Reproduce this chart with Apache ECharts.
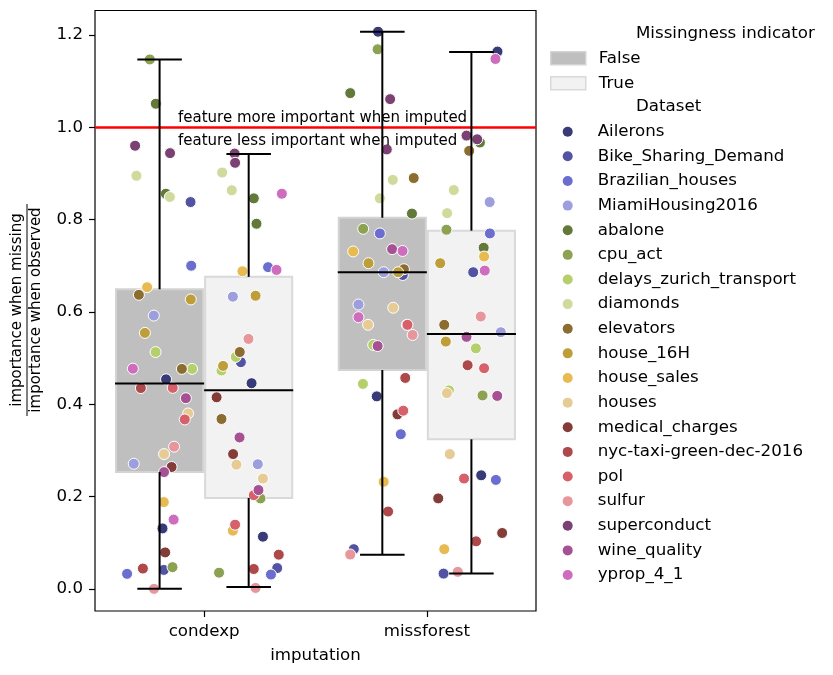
<!DOCTYPE html>
<html><head><meta charset="utf-8">
<script src="https://cdn.jsdelivr.net/npm/echarts@6/dist/echarts.min.js"></script>
<style>html,body{margin:0;padding:0;background:#fff}#c{width:833px;height:675px}</style>
</head><body><div id="c"></div>
<script>
const categories = ['condexp', 'missforest'];
const indicators = ['False', 'True'];
const yTicks = [0, 0.2, 0.4, 0.6, 0.8, 1.0, 1.2];
const datasetNames = ['Ailerons','Bike_Sharing_Demand','Brazilian_houses','MiamiHousing2016','abalone','cpu_act','delays_zurich_transport','diamonds','elevators','house_16H','house_sales','houses','medical_charges','nyc-taxi-green-dec-2016','pol','sulfur','superconduct','wine_quality','yprop_4_1'];
const datasetColors = ['#393b79','#5254a3','#6b6ecf','#9c9ede','#637939','#8ca252','#b5cf6b','#cedb9c','#8c6d31','#bd9e39','#e7ba52','#e7cb94','#843c39','#ad494a','#d6616b','#e7969c','#7b4173','#a55194','#ce6dbd'];

// box stats per category: [low whisker, Q1, median, Q3, high whisker]
const boxFalse = [[0.000, 0.253, 0.445, 0.649, 1.147], [0.074, 0.474, 0.686, 0.804, 1.207]];
const boxTrue  = [[0.004, 0.197, 0.430, 0.676, 0.942], [0.033, 0.324, 0.552, 0.776, 1.163]];
const thresholdValue = 1.0;

// points [x (category index + jitter), ratio]
const ptsAilerons = [[-0.171,0.454],[-0.187,0.131],[0.213,0.4455],[0.264,0.113],[0.781,1.207],[0.775,0.417],[1.317,1.164],[1.244,0.246]];
const ptsBike = [[-0.061,0.838],[-0.181,0.041],[0.165,0.491],[0.328,0.045],[0.892,0.680],[0.672,0.086],[1.208,0.686],[1.075,0.033]];
const ptsBrazilian = [[-0.058,0.700],[-0.346,0.0325],[0.287,0.697],[0.300,0.031],[0.789,0.770],[0.883,0.335],[1.283,0.770],[1.310,0.236]];
const ptsMiami = [[-0.226,0.592],[-0.316,0.271],[0.129,0.633],[0.241,0.270],[0.806,0.686],[0.693,0.616],[1.282,0.838],[1.332,0.556]];
const ptsAbalone = [[-0.217,1.051],[-0.172,0.856],[0.223,0.846],[0.235,0.791],[0.656,1.074],[0.933,0.813],[1.238,0.967],[1.255,0.739]];
const ptsCpu = [[-0.244,1.147],[-0.142,0.047],[0.253,0.196],[0.067,0.035],[0.779,1.169],[0.714,0.780],[1.088,0.778],[1.250,0.419]];
const ptsDelays = [[-0.218,0.513],[-0.054,0.4765],[0.142,0.5025],[0.078,0.473],[0.759,0.5285],[0.713,0.444],[1.220,0.521],[1.099,0.430]];
const ptsDiamonds = [[-0.304,0.895],[-0.154,0.849],[0.081,0.902],[0.124,0.8635],[0.847,0.886],[0.789,0.846],[1.121,0.864],[1.091,0.814]];
const ptsElevators = [[-0.293,0.637],[-0.100,0.4765],[0.160,0.513],[0.078,0.368],[0.941,0.890],[0.897,0.6925],[1.190,0.949],[1.078,0.572]];
const ptsHouse16H = [[-0.060,0.627],[-0.266,0.5545],[0.231,0.635],[0.085,0.483],[0.738,0.7055],[0.871,0.686],[1.060,0.7055],[1.085,0.5357]];
const ptsHouseSales = [[-0.256,0.6535],[-0.181,0.188],[0.172,0.688],[0.129,0.126],[0.669,0.731],[0.806,0.232],[1.257,0.720],[1.078,0.086]];
const ptsHouses = [[-0.072,0.380],[-0.180,0.292],[0.145,0.269],[0.264,0.239],[0.849,0.609],[0.736,0.572],[1.090,0.424],[1.103,0.292]];
const ptsMedical = [[-0.146,0.264],[-0.175,0.079],[0.056,0.415],[0.130,0.292],[0.868,0.378],[0.910,0.572],[1.051,0.196],[1.338,0.121]];
const ptsNyc = [[-0.284,0.435],[-0.275,0.044],[0.335,0.074],[0.223,0.043],[0.903,0.457],[0.826,0.1675],[1.183,0.4845],[1.221,0.103]];
const ptsPol = [[-0.141,0.4354],[-0.087,0.367],[0.223,0.203],[0.139,0.139],[0.913,0.572],[0.894,0.386],[1.257,0.478],[1.167,0.239]];
const ptsSulfur = [[-0.135,0.308],[-0.225,0.0],[0.199,0.5415],[0.231,0.002],[0.936,0.550],[0.656,0.0744],[1.242,0.590],[1.139,0.0368]];
const ptsSuperconduct = [[-0.310,0.960],[-0.153,0.944],[0.137,0.943],[0.139,0.923],[0.835,1.061],[0.820,0.952],[1.178,0.982],[1.226,0.974]];
const ptsWine = [[-0.082,0.413],[-0.180,0.253],[0.159,0.328],[0.244,0.214],[0.844,0.736],[0.779,0.526],[1.178,0.546],[1.316,0.418]];
const ptsYprop = [[-0.320,0.477],[-0.137,0.150],[0.349,0.856],[0.325,0.691],[0.891,0.732],[0.693,0.5885],[1.308,1.148],[1.260,0.6895]];
const pointSets = [ptsAilerons, ptsBike, ptsBrazilian, ptsMiami, ptsAbalone, ptsCpu, ptsDelays, ptsDiamonds, ptsElevators, ptsHouse16H, ptsHouseSales, ptsHouses, ptsMedical, ptsNyc, ptsPol, ptsSulfur, ptsSuperconduct, ptsWine, ptsYprop];

const FONT = 'DejaVu Sans';
const boxFill = ['#bfbfbf', '#f2f2f2'];
const boxEdge = ['#d3d3d3', '#d9d9d9'];
const HALF = 0.2;

function boxRows(stats, offset, ind) {
  return stats.map((s, i) => [i + offset, s[0], s[1], s[2], s[3], s[4], ind]);
}
const boxRowsFalse = boxRows(boxFalse, -HALF, 0);
const boxRowsTrue = boxRows(boxTrue, HALF, 1);

function renderBox(params, api) {
  const x = api.value(0), q1 = api.value(2), q3 = api.value(4), ind = api.value(6);
  const a = api.coord([x - HALF, q3]);
  const b = api.coord([x + HALF, q1]);
  return { type: 'rect', shape: { x: a[0] + 1, y: a[1], width: b[0] - a[0] - 2, height: b[1] - a[1] },
    style: { fill: boxFill[ind], stroke: boxEdge[ind], lineWidth: 2 } };
}
function renderLines(params, api) {
  const x = api.value(0), lo = api.value(1), q1 = api.value(2), md = api.value(3), q3 = api.value(4), hi = api.value(5);
  const ln = (p, q) => ({ type: 'line', shape: { x1: p[0], y1: p[1], x2: q[0], y2: q[1] }, style: { stroke: '#000', lineWidth: 2 } });
  return { type: 'group', children: [
    ln(api.coord([x, lo]), api.coord([x, q1])),
    ln(api.coord([x, q3]), api.coord([x, hi])),
    ln(api.coord([x - HALF / 2, lo]), api.coord([x + HALF / 2, lo])),
    ln(api.coord([x - HALF / 2, hi]), api.coord([x + HALF / 2, hi])),
    ln(api.coord([x - HALF, md]), api.coord([x + HALF, md]))
  ] };
}

const series = [
  { name: 'False', type: 'custom', renderItem: renderBox, data: boxRowsFalse, encode: { x: 0, y: [1, 5] }, z: 1, silent: true,
    itemStyle: { color: boxFill[0] },
    markLine: { silent: true, symbol: 'none', label: { show: false }, lineStyle: { color: '#ff0000', width: 2.5, type: 'solid' }, data: [{ yAxis: thresholdValue }] } },
  { name: 'True', type: 'custom', renderItem: renderBox, data: boxRowsTrue, encode: { x: 0, y: [1, 5] }, z: 1, silent: true, itemStyle: { color: boxFill[1] } }
];
datasetNames.forEach((n, i) => {
  series.push({ name: n, type: 'scatter', data: pointSets[i], symbol: 'circle', symbolSize: 11, z: 3,
    itemStyle: { color: datasetColors[i], borderColor: '#ffffff', borderWidth: 1, opacity: 1 } });
});
series.push({ name: 'whiskers', type: 'custom', renderItem: renderLines, data: boxRowsFalse.concat(boxRowsTrue), encode: { x: 0, y: [1, 5] }, z: 5, silent: true });

const chart = echarts.init(document.getElementById('c'), null, { renderer: 'canvas' });
chart.setOption({
  animation: false,
  backgroundColor: '#ffffff',
  textStyle: { fontFamily: FONT },
  grid: { left: 95, right: 297, top: 10.5, bottom: 64, show: true, borderColor: '#000', borderWidth: 1.2, backgroundColor: 'transparent' },
  xAxis: { type: 'value', min: -0.49, max: 1.49, position: 'bottom',
    name: 'imputation', nameLocation: 'middle', nameGap: 36, nameTextStyle: { fontSize: 16.67, color: '#000', fontFamily: FONT },
    axisLine: { show: false, onZero: false }, splitLine: { show: false },
    axisTick: { show: true, length: 6, lineStyle: { color: '#000', width: 1.2 }, customValues: [0, 1] },
    axisLabel: { show: true, margin: 12, fontSize: 16.67, color: '#000', fontFamily: FONT, customValues: [0, 1], formatter: v => categories[Math.round(v)] } },
  yAxis: { type: 'value', min: -0.048, max: 1.253, position: 'left',
    axisLine: { show: false, onZero: false }, splitLine: { show: false },
    axisTick: { show: true, length: 6, lineStyle: { color: '#000', width: 1.2 }, customValues: yTicks },
    axisLabel: { show: true, margin: 12, fontSize: 16.67, color: '#000', fontFamily: FONT, customValues: yTicks, formatter: v => v.toFixed(1) } },
  legend: [
    { data: indicators.map((n, i) => ({ name: n, icon: 'rect', itemStyle: { color: boxFill[i], borderColor: boxEdge[i], borderWidth: 1.5 } })),
      orient: 'vertical', left: 550, top: 49.7, padding: 0, itemWidth: 35, itemHeight: 13, itemGap: 8, selectedMode: false,
      textStyle: { fontSize: 16.67, color: '#000', fontFamily: FONT, padding: [0, 0, 0, 8] } },
    { data: datasetNames, orient: 'vertical', left: 562.7, top: 123.2, padding: 0, icon: 'circle', itemWidth: 10, itemHeight: 10, itemGap: 7.63, selectedMode: false,
      itemStyle: { borderWidth: 0 },
      textStyle: { fontSize: 16.67, color: '#000', fontFamily: FONT, padding: [0, 0, 0, 20] } }
  ],
  graphic: [
    { type: 'text', x: 636, y: 33.3, style: { text: 'Missingness indicator', font: '16.67px "DejaVu Sans"', fill: '#000', verticalAlign: 'middle' } },
    { type: 'text', x: 636, y: 106.7, style: { text: 'Dataset', font: '16.67px "DejaVu Sans"', fill: '#000', verticalAlign: 'middle' } },
    { type: 'text', x: 178, y: 117.7, z: 10, style: { text: 'feature more important when imputed', font: '15px "DejaVu Sans"', fill: '#000', verticalAlign: 'middle' } },
    { type: 'text', x: 178, y: 140.7, z: 10, style: { text: 'feature less important when imputed', font: '15px "DejaVu Sans"', fill: '#000', verticalAlign: 'middle' } },
    { type: 'group', x: 27, y: 310, rotation: Math.PI / 2, children: [
      { type: 'text', x: 0, y: -2, style: { text: 'importance when missing', font: '15px "DejaVu Sans"', fill: '#000', align: 'center', verticalAlign: 'bottom' } },
      { type: 'line', shape: { x1: -106, y1: 0, x2: 106, y2: 0 }, style: { stroke: '#000', lineWidth: 1 } },
      { type: 'text', x: 0, y: 2, style: { text: 'importance when observed', font: '15px "DejaVu Sans"', fill: '#000', align: 'center', verticalAlign: 'top' } }
    ] }
  ],
  series: series
});
</script>
</body></html>
